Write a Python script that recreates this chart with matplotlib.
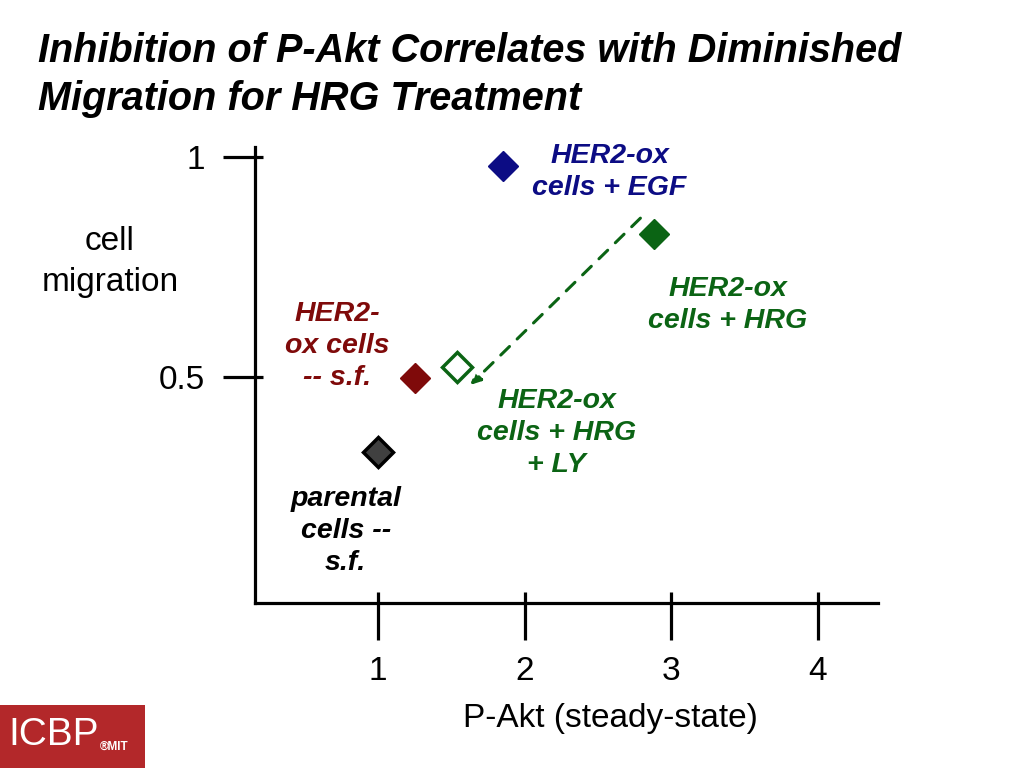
import matplotlib
matplotlib.use("Agg")
import matplotlib.pyplot as plt
from matplotlib.transforms import blended_transform_factory
from matplotlib.patches import Rectangle

plt.rcParams['font.family'] = ['Liberation Sans', 'DejaVu Sans']

# data
labels = ["HER2-ox\ncells + EGF", "HER2-ox\ncells + HRG", "HER2-ox\ncells + HRG\n+ LY",
          "HER2-\nox cells\n-- s.f.", "parental\ncells --\ns.f."]
pakt = [1.85, 2.88, 1.54, 1.25, 1.00]
migration = [0.98, 0.825, 0.523, 0.498, 0.33]
face_colors = ["#0c0c84", "#0b6414", "white", "#7f0a0a", "#404040"]
edge_colors = ["#0c0c84", "#0b6414", "#0b6414", "#7f0a0a", "#000000"]
text_colors = ["#0c0c84", "#0b6414", "#0b6414", "#7f0a0a", "#000000"]
label_pos = [(2.58, 0.967), (3.385, 0.664), (2.22, 0.373), (0.72, 0.570), (0.78, 0.150)]
arrow_start = (2.79, 0.861)
arrow_end = (1.63, 0.482)

xticks = [1, 2, 3, 4]
xtick_labels = ["1", "2", "3", "4"]
yticks = [0.5, 1]
ytick_labels = ["0.5", "1"]

fig = plt.figure(figsize=(10.24, 7.68), dpi=100)
W, H = 1024, 768
ax = fig.add_axes([255 / W, 1 - 603 / H, (878 - 255) / W, (603 - 147) / H])
ax.set_xlim(0.162, 4.41)
ax.set_ylim(-0.0136, 1.0227)

for s in ['top', 'right']:
    ax.spines[s].set_visible(False)
for s in ['left', 'bottom']:
    ax.spines[s].set_linewidth(2.3)
    ax.spines[s].set_color('black')

ax.set_xticks(xticks)
ax.set_xticklabels(xtick_labels, fontsize=24)
ax.set_yticks(yticks)
ax.set_yticklabels(ytick_labels, fontsize=24)
ax.tick_params(axis='x', length=0, pad=38)
ax.tick_params(axis='y', length=0, pad=36)

# custom crossing ticks
tx = blended_transform_factory(ax.transData, ax.transAxes)
for xv in xticks:
    ax.plot([xv, xv], [0.024, -0.081], transform=tx, color='black', lw=2.3,
            clip_on=False, solid_capstyle='butt')
ty = blended_transform_factory(ax.transAxes, ax.transData)
for yv in yticks:
    ax.plot([-0.051, 0.013], [yv, yv], transform=ty, color='black', lw=2.3,
            clip_on=False, solid_capstyle='butt')

# arrow
ax.annotate("", xy=arrow_end, xytext=arrow_start,
            arrowprops=dict(arrowstyle="-|>,head_length=0.6,head_width=0.3",
                            linestyle=(0, (4, 3.5)), lw=2.2, color="#0b6414",
                            shrinkA=0, shrinkB=0))

for x, y, fc, ec in zip(pakt, migration, face_colors, edge_colors):
    ax.plot([x], [y], marker='D', markersize=15.5, markerfacecolor=fc,
            markeredgecolor=ec, markeredgewidth=2.5 if fc == 'white' or ec == '#000000' else 1,
            linestyle='none', clip_on=False, zorder=5)

for lab, (lx, ly), c in zip(labels, label_pos, text_colors):
    ax.text(lx, ly, lab, color=c, fontsize=20.5, fontweight='bold', fontstyle='italic',
            ha='center', va='center', linespacing=1.3)

fig.text(610 / W, 1 - 718 / H, "P-Akt (steady-state)", fontsize=24, ha='center', va='center')
fig.text(110 / W, 1 - 262 / H, "cell\nmigration", fontsize=24, ha='center', va='center',
         linespacing=1.38)

fig.text(38 / W, 1 - 75 / H, "Inhibition of P-Akt Correlates with Diminished\nMigration for HRG Treatment",
         fontsize=28.5, fontweight='bold', fontstyle='italic', ha='left', va='center',
         linespacing=1.35)

# logo
fig.patches.append(Rectangle((0, 0), 145 / W, 63 / H, transform=fig.transFigure,
                             facecolor="#b3282a", edgecolor='none'))
fig.text(8 / W, 1 - 735 / H, "ICBP", fontsize=28, color='white', ha='left', va='center')
fig.text(100 / W, 1 - 747 / H, "®MIT", fontsize=8.5, color='white', fontweight='bold',
         ha='left', va='center')

fig.savefig("out.png", dpi=100)
